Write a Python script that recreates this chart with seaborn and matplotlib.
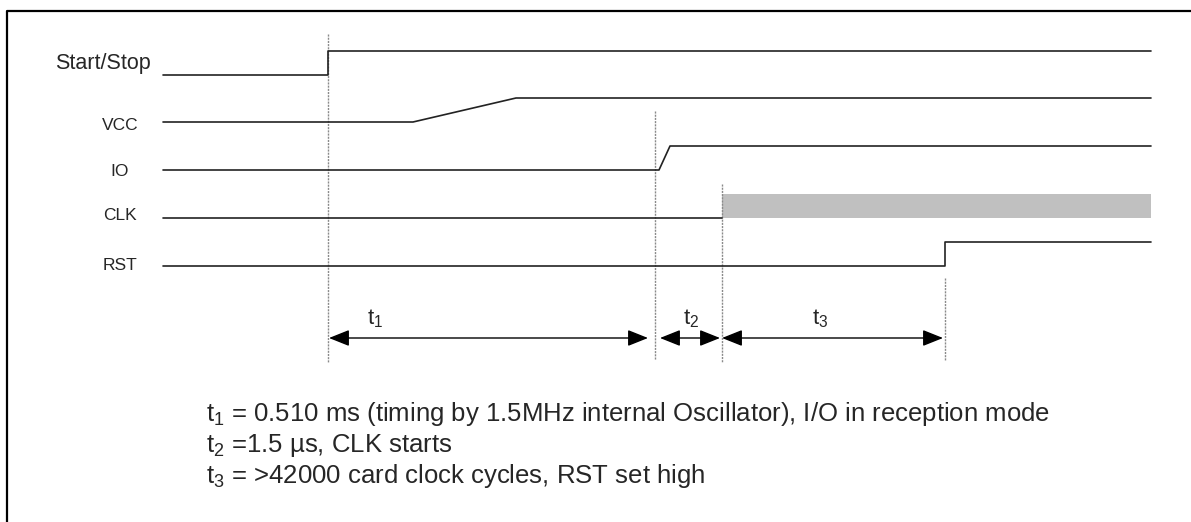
import pandas as pd
import matplotlib.pyplot as plt
import seaborn as sns
from matplotlib.patches import FancyArrowPatch

# --- DATA (diagram units) ---
signal_names = ["Start/Stop", "VCC", "IO", "CLK", "RST"]
signal_low = [75, 122, 170, 218, 266]
level_height = 24

start_stop_t = [163, 328, 328, 1151]
start_stop_lv = [0, 0, 1, 1]
vcc_t = [163, 413, 516, 1151]
vcc_lv = [0, 0, 1, 1]
io_t = [163, 659, 670, 1151]
io_lv = [0, 0, 1, 1]
clk_t = [163, 722]
clk_lv = [0, 0]
rst_t = [163, 945, 945, 1151]
rst_lv = [0, 0, 1, 1]
clk_active = [722, 1151]

marker_t = [328, 655, 722, 945]
marker_top = [34, 111, 184, 278]
marker_bottom = [362, 360, 362, 361]

interval_labels = ["t$_1$", "t$_2$", "t$_3$"]
interval_start = [329, 660, 722]
interval_end = [648, 720, 943]
interval_label_t = [367, 683, 812]

notes = [
    "t$_1$ = 0.510 ms (timing by 1.5MHz internal Oscillator), I/O in reception mode",
    "t$_2$ =1.5 µs, CLK starts",
    "t$_3$ = >42000 card clock cycles, RST set high",
]

# --- STYLE ---
sns.set_style("white")
plt.rcParams['font.family'] = ['Liberation Sans', 'DejaVu Sans']
plt.rcParams['mathtext.fontset'] = 'custom'
plt.rcParams['mathtext.rm'] = 'Liberation Sans'
plt.rcParams['mathtext.it'] = 'Liberation Sans'
plt.rcParams['mathtext.bf'] = 'Liberation Sans:bold'

# long-form waveform table
waves = [start_stop_t, vcc_t, io_t, clk_t, rst_t]
levels = [start_stop_lv, vcc_lv, io_lv, clk_lv, rst_lv]
rows = []
for name, base, ts, lvs in zip(signal_names, signal_low, waves, levels):
    for i, (t, lv) in enumerate(zip(ts, lvs)):
        rows.append({"signal": name, "order": i, "t": t, "y": base - lv * level_height})
df = pd.DataFrame(rows)

fig = plt.figure(figsize=(11.91, 5.22), dpi=100)
ax = fig.add_axes([0, 0, 1, 1])

# outer frame (cut at right and bottom)
ax.plot([7, 7, 1200], [540, 11, 11], color='black', lw=1.6, solid_capstyle='butt')

# marker lines
for t, y0, y1 in zip(marker_t, marker_top, marker_bottom):
    ax.plot([t, t], [y0, y1], color='#8a8a8a', lw=1.0, ls=(0, (1.5, 0.8)))

# CLK running (grey band)
clk_base = signal_low[signal_names.index("CLK")]
ax.fill_between(clk_active, clk_base - level_height, clk_base, color='#c0c0c0', lw=0)

sns.lineplot(data=df, x='t', y='y', units='signal', estimator=None, sort=False,
             color='#222222', lw=1.2, ax=ax)
ax.set_xlabel('')
ax.set_ylabel('')
ax.set_xlim(0, 1191)
ax.set_ylim(522, 0)
ax.axis('off')

# signal names
ax.text(151, 63, signal_names[0], ha='right', va='center', fontsize=15.5)
for name, y in zip(signal_names[1:], [126, 172, 216, 265]):
    ax.text(120, y, name, ha='center', va='center', fontsize=12.5)

# interval arrows
arrow_y = 338
for lab, a, b, lt in zip(interval_labels, interval_start, interval_end, interval_label_t):
    arr = FancyArrowPatch((a, arrow_y), (b, arrow_y),
                          arrowstyle='<|-|>,head_length=1.25,head_width=0.5',
                          mutation_scale=10, shrinkA=0, shrinkB=0,
                          color='black', lw=1.0)
    ax.add_patch(arr)
    ax.text(lt, 324, lab, ha='left', va='baseline', fontsize=16)

# notes
for i, line in enumerate(notes):
    ax.text(206, 421 + i * 31, line, ha='left', va='baseline', fontsize=18.5)

plt.savefig("out.png", dpi=100)
plt.close()
